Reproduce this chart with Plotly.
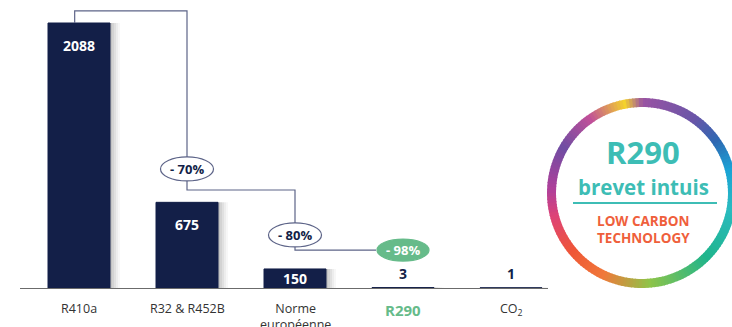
import math
import plotly.graph_objects as go

# ---------------- data ----------------
categories = ["R410a", "R32 & R452B", "Norme<br>européenne", "R290", "CO<sub>2</sub>"]
gwp_values = [2088, 675, 150, 3, 1]
value_labels = ["2088", "675", "150", "3", "1"]
reductions = ["- 70%", "- 80%", "- 98%"]
# heights (in GWP units) of the connector elbows and of the reduction badges
connector_levels = [2183, 772, 299]
badge_levels = [938, 418, 299]
badge_positions = [1, 2, 3]

NAVY = "#131f48"
LINE = "#5d6488"
GREEN = "#66bb8a"
TEAL = "#3dbdb5"
ORANGE = "#ef5f3c"
FONT = "Open Sans"

W, H = 732, 327
BAR_W = 0.574
PX = 108.0  # pixels per category unit
PX_PER_UNIT = 265 / gwp_values[0]

fig = go.Figure()
idx = list(range(len(categories)))

# soft shadow on right of bars
for k, a in [(2, 0.07), (4, 0.06), (6, 0.05), (8, 0.04), (10, 0.03)]:
    fig.add_trace(go.Bar(
        x=idx, y=gwp_values, width=BAR_W, offset=-BAR_W / 2 + k / PX,
        marker=dict(color=f"rgba(0,0,0,{a})", line=dict(width=0)),
        hoverinfo="skip"))

fig.add_trace(go.Bar(
    x=idx, y=gwp_values, width=BAR_W, offset=-BAR_W / 2,
    marker=dict(color=NAVY, line=dict(color=NAVY, width=1))))

# connectors
cx, cy = [], []
cx += [-0.04, -0.04, badge_positions[0], badge_positions[0], None]
cy += [gwp_values[0], connector_levels[0], connector_levels[0], badge_levels[0], None]
cx += [badge_positions[0], badge_positions[0], badge_positions[1], badge_positions[1], None]
cy += [badge_levels[0], connector_levels[1], connector_levels[1], badge_levels[1], None]
cx += [badge_positions[1], badge_positions[1], badge_positions[2] - 0.25]
cy += [badge_levels[1], connector_levels[2], connector_levels[2]]
fig.add_trace(go.Scatter(x=cx, y=cy, mode="lines", line=dict(color=LINE, width=1.2),
                         hoverinfo="skip", cliponaxis=False))

shapes = []
annotations = []
for i, (txt, bx, by) in enumerate(zip(reductions, badge_positions, badge_levels)):
    last = i == len(reductions) - 1
    hw, hh = (26, 11) if last else (26.5, 12)
    shapes.append(dict(type="circle", xref="x", yref="y", xsizemode="pixel", ysizemode="pixel",
                       xanchor=bx, yanchor=by, x0=-hw, x1=hw, y0=-hh, y1=hh,
                       fillcolor=GREEN if last else "white",
                       line=dict(color=GREEN if last else LINE, width=1.2), layer="above"))
    annotations.append(dict(x=bx, y=by, xref="x", yref="y", text=f"<b>{txt}</b>", showarrow=False,
                            font=dict(family=FONT, size=13, color="white" if last else NAVY),
                            xanchor="center", yanchor="middle"))

# value labels
for i, (v, lab) in enumerate(zip(gwp_values, value_labels)):
    bar_px = v * PX_PER_UNIT
    if bar_px > 12:
        inset = min(22, bar_px / 2)
        annotations.append(dict(x=i, y=v, xref="x", yref="y", text=f"<b>{lab}</b>", showarrow=False,
                                yshift=-inset, font=dict(family=FONT, size=14, color="white"),
                                xanchor="center", yanchor="middle"))
    else:
        annotations.append(dict(x=i, y=v, xref="x", yref="y", text=f"<b>{lab}</b>", showarrow=False,
                                yshift=3, font=dict(family=FONT, size=14, color=NAVY),
                                xanchor="center", yanchor="bottom"))

# category labels
for i, c in enumerate(categories):
    if c == "R290":
        txt, f = "<b>R290</b>", dict(family=FONT, size=15, color=GREEN)
    else:
        txt, f = c, dict(family=FONT, size=12.5, color="#333333")
    annotations.append(dict(x=i, y=1 - 298 / H, xref="x", yref="paper", text=txt, showarrow=False,
                            font=f, xanchor="center", yanchor="top"))

# ---------------- badge ring ----------------
def px2paper(px, py):
    return px / W, 1 - py / H

stops = [(0, "#9a54a3"), (35, "#6a55a8"), (55, "#2e68b2"), (75, "#1ba3d6"), (100, "#2abbc0"),
         (135, "#1fb58c"), (175, "#8ec449"), (205, "#f0793a"), (230, "#ef5636"), (255, "#de4376"),
         (272, "#b0409a"), (300, "#6f4da3"), (325, "#c04f99"), (349, "#f4d22c"), (360, "#9a54a3")]

def hex2rgb(h):
    return tuple(int(h[j:j + 2], 16) for j in (1, 3, 5))

def color_at(a):
    for (a0, c0), (a1, c1) in zip(stops[:-1], stops[1:]):
        if a0 <= a <= a1:
            t = (a - a0) / (a1 - a0) if a1 > a0 else 0
            r0, r1 = hex2rgb(c0), hex2rgb(c1)
            return "rgb(%d,%d,%d)" % tuple(round(r0[j] + (r1[j] - r0[j]) * t) for j in range(3))
    return stops[0][1]

CX, CY, RO, RI = 642, 193, 95, 86
N = 180
for k in range(N):
    a0 = 360 * k / N
    a1 = 360 * (k + 1) / N + 0.6
    pts = []
    for r, a in [(RO, a0), (RO, a1), (RI, a1), (RI, a0)]:
        t = math.radians(a)
        pts.append(px2paper(CX + r * math.sin(t), CY - r * math.cos(t)))
    path = "M " + " L ".join(f"{x:.5f},{y:.5f}" for x, y in pts) + " Z"
    shapes.append(dict(type="path", xref="paper", yref="paper", path=path,
                       fillcolor=color_at(a0 + 1), line=dict(width=0), layer="above"))

x0, y0 = px2paper(573, 203)
x1, _ = px2paper(717, 203)
shapes.append(dict(type="line", xref="paper", yref="paper", x0=x0, x1=x1, y0=y0, y1=y0,
                   line=dict(color=TEAL, width=1.8)))

for txt, py, size, col in [("<b>R290</b>", 152, 31, TEAL), ("<b>brevet intuis</b>", 187, 20.5, TEAL),
                           ("<b>LOW CARBON</b>", 221, 13.5, ORANGE), ("<b>TECHNOLOGY</b>", 238, 13.5, ORANGE)]:
    ax, ay = px2paper(CX + 1, py)
    annotations.append(dict(x=ax, y=ay, xref="paper", yref="paper", text=txt, showarrow=False,
                            font=dict(family=FONT, size=size, color=col), xanchor="center", yanchor="middle"))

ymax = 288 / PX_PER_UNIT
fig.update_layout(
    width=W, height=H, margin=dict(l=0, r=0, t=0, b=0),
    paper_bgcolor="white", plot_bgcolor="white", showlegend=False, barmode="overlay",
    xaxis=dict(domain=[20 / W, 548 / W], range=[(20 - 79) / PX, (548 - 79) / PX],
               showgrid=False, zeroline=False, showticklabels=False, ticks="",
               showline=True, linecolor="#6b6b6b", linewidth=1.3),
    yaxis=dict(domain=[1 - 288 / H, 1], range=[0, ymax], visible=False, showgrid=False),
    shapes=shapes, annotations=annotations,
)

fig.write_html("out.html")
